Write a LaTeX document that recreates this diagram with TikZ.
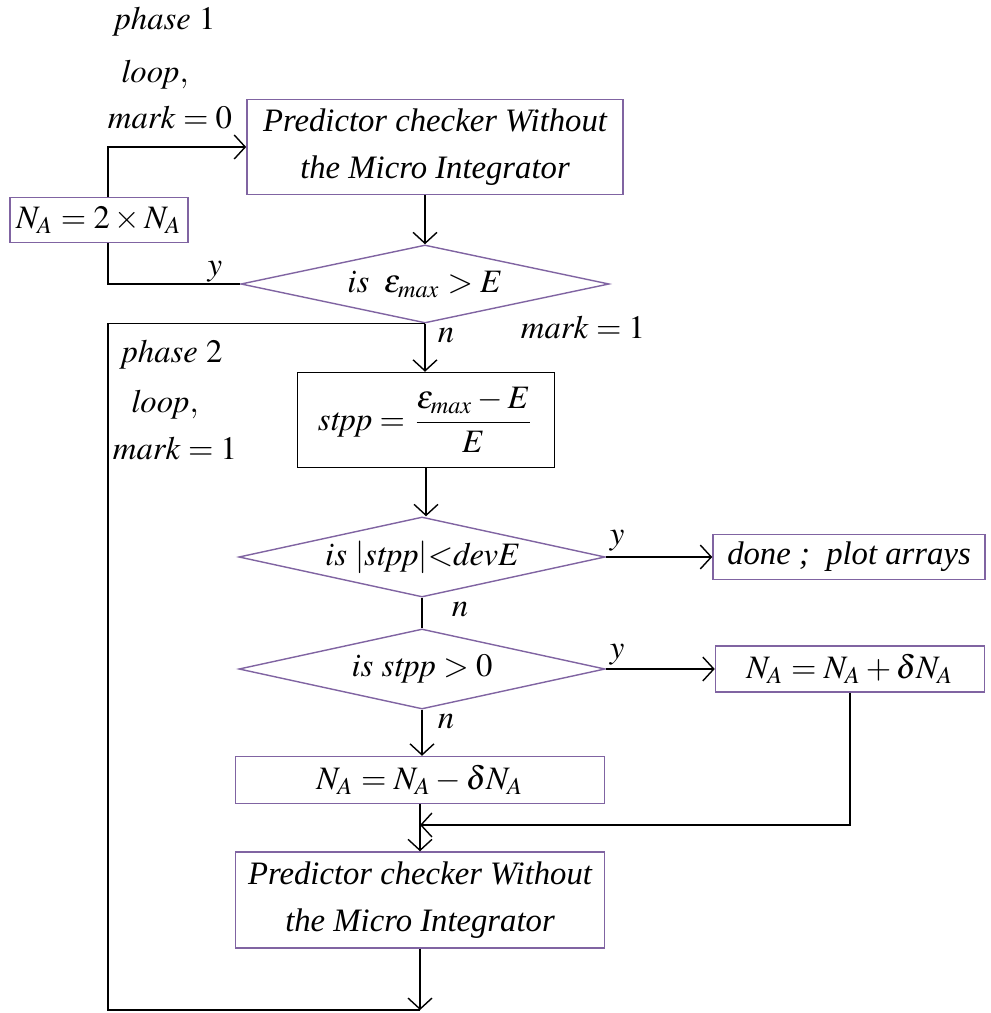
\documentclass[tikz,border=0pt]{standalone}
\usepackage{amsmath}
\usepackage{mathptmx}
\usepackage{fontspec}
\setmainfont{Liberation Serif}
\usetikzlibrary{shapes.geometric,arrows.meta}
\definecolor{boxline}{RGB}{128,100,162}
\newcommand{\figfont}{\fontsize{9.3}{13.4}\selectfont}
\tikzset{
  pbox/.style={draw=boxline,inner sep=0pt,align=center,font=\figfont\itshape},
  kbox/.style={draw=black,inner sep=0pt,align=center},
  decide/.style={diamond,draw=boxline,inner sep=0pt,shape aspect=5},
  flow/.style={-{Straight Barb[length=1.1mm,width=2.4mm]}},
  tag/.style={inner sep=1pt}
}
\newcommand{\vname}[1]{\mathit{#1}}
\begin{document}
\begin{tikzpicture}[x=0.01cm,y=-0.01cm,font=\figfont]
\useasboundingbox (0,0) rectangle (990,1013);
% phase 1
\node[tag] (ph1) at (165,22) {$\vname{phase}\ 1$};
\node[tag] (lp1) at (155,75) {$\vname{loop},$};
\node[tag] (mk0) at (170,118) {$\vname{mark}=0$};
\node[pbox,minimum width=3.76cm,minimum height=0.95cm] (pc1) at (435,147) {Predictor checker Without\\ the Micro Integrator};
\node[pbox,minimum width=1.78cm,minimum height=0.45cm] (dbl) at (99,220) {$N_A=2\times N_A$};
\node[decide,minimum width=3.68cm,minimum height=0.78cm] (d1) at (425,284) {$\vname{is}\;\;\varepsilon_{\vname{max}}>E$};
\coordinate (c1) at (108,284);
\draw[flow] (pc1.south -| d1.north) -- (d1.north);
\draw (d1.west) -- (c1) -- (c1 |- dbl.south);
\draw[flow] (c1 |- dbl.north) |- (pc1.west);
\node[tag] (y1) at (215,272) {$y$};
\node[tag] (mk1) at (583,327) {$\vname{mark}=1$};
% phase 2
\node[tag] (ph2) at (172,355) {$\vname{phase}\ 2$};
\node[tag] (lp2) at (165,405) {$\vname{loop},$};
\node[tag] (mk1b) at (175,448) {$\vname{mark}=1$};
\node[kbox,minimum width=2.57cm,minimum height=0.95cm] (stpp) at (426,420) {$\vname{stpp}=\dfrac{\varepsilon_{\vname{max}}-E}{E}$};
\node[decide,minimum width=3.66cm,minimum height=0.80cm] (d2) at (422,557) {$\vname{is}\ |\vname{stpp}|{<}\vname{devE}$};
\node[pbox,minimum width=2.72cm,minimum height=0.45cm] (done) at (849,557) {done ;\ \ plot arrays};
\node[decide,minimum width=3.66cm,minimum height=0.80cm] (d3) at (422,669) {$\vname{is}\ \vname{stpp}>0$};
\node[pbox,minimum width=2.69cm,minimum height=0.46cm] (plus) at (850,669) {$N_A=N_A+\delta N_A$};
\node[pbox,minimum width=3.69cm,minimum height=0.47cm] (minus) at (420,780) {$N_A=N_A-\delta N_A$};
\node[pbox,minimum width=3.69cm,minimum height=0.96cm] (pc2) at (420,900) {Predictor checker Without\\ the Micro Integrator};
\coordinate (c3) at (108,1010);
\coordinate (c4) at (d1.south -| c3);
\coordinate (join) at (minus.south |- 0,825);
\draw[flow] (d1.south) -- (d1.south |- stpp.north);
\draw[flow] (stpp.south) -- (stpp.south |- d2.north);
\draw[flow] (d2.east) -- (done.west);
\draw (d2.south) -- (d3.north);
\draw[flow] (d3.east) -- (plus.west);
\draw[flow] (d3.south) -- (d3.south |- minus.north);
\draw[flow] (minus.south) -- (minus.south |- pc2.north);
\draw[flow] (plus.south) |- (join);
\draw[flow] (pc2.south) -- (pc2.south |- c3);
\draw (pc2.south |- c3) -- (c3) -- (c4) -- (d1.south);
\node[tag] (n1) at (446,336) {$n$};
\node[tag] (y2) at (617,541) {$y$};
\node[tag] (n2) at (460,610) {$n$};
\node[tag] (y3) at (617,655) {$y$};
\node[tag] (n3) at (446,722) {$n$};
\end{tikzpicture}
\end{document}
